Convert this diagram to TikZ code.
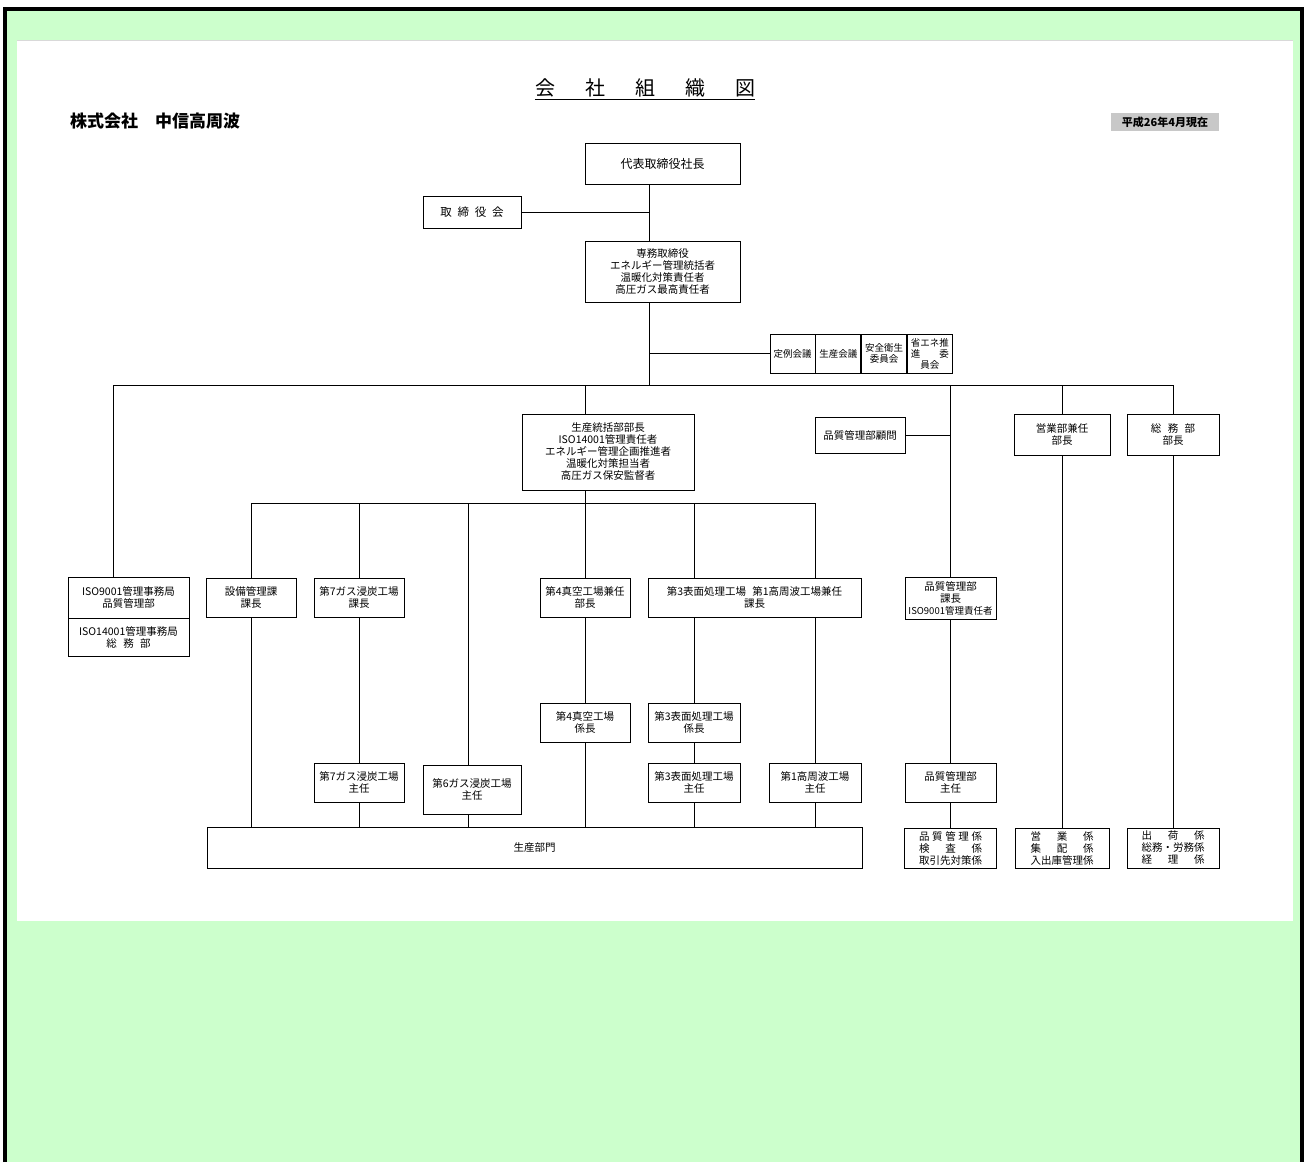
\documentclass[tikz,border=0pt]{standalone}
\usepackage{fontspec}
\setmainfont{Noto Sans CJK JP}
\usepackage{xcolor}
\definecolor{framegreen}{HTML}{CCFFCC}
\definecolor{labelgray} {HTML}{C8C8C8}
\usetikzlibrary{positioning, calc}

% spread the characters of one line over a fixed width
\newcommand{\jfy}[2][6em]{\makebox[#1][s]{#2}}

\begin{document}
\begin{tikzpicture}[x=1pt, y=-1pt,
    box/.style={draw, line width=0.8pt, align=center, inner sep=0pt,
                minimum width=90pt, minimum height=39pt,
                font=\fontsize{10.5}{12}\selectfont},
    cmbox/.style={box, minimum width=45pt, minimum height=39pt,
                  font=\fontsize{9.5}{11}\selectfont},
    link/.style={line width=0.8pt}]

    \useasboundingbox (0,0) rectangle (1306,1162);

    % --- page, green frame and white sheet
    \fill[white] (0,0) rectangle (1306,1162);
    \fill[framegreen] (5,9) rectangle (1302,1162);
    \draw[line width=3.5pt] (5,1162) |- (1302,9) -- (1302,1162);
    \fill[white] (17,40) rectangle (1293,921);
    \draw[gray!30, line width=1pt] (17,40.5) -- (1293,40.5);

    % --- headings
    \node[inner sep=0pt, font=\fontsize{20}{22}\selectfont] (title) at (645,88)
        {会\hspace{1.5em}社\hspace{1.5em}組\hspace{1.5em}織\hspace{1.5em}図};
    \draw[link] ([yshift=-2pt]title.south west) -- ([yshift=-2pt]title.south east);
    \node[inner sep=0pt, font=\fontsize{17}{19}\selectfont\bfseries] (company) at (155,121)
        {株式会社　中信高周波};
    \node[fill=labelgray, inner sep=0pt, minimum width=108pt, minimum height=18pt,
          font=\fontsize{11}{13}\selectfont\bfseries] (date) at (1165,122) {平成26年4月現在};

    % --- top management
    \node[box, minimum width=155pt, minimum height=41pt,
          font=\fontsize{12}{14}\selectfont] (pres) at (662.5,163.5) {代表取締役社長};
    \node[box, minimum width=98pt, minimum height=32pt,
          font=\fontsize{11.5}{13}\selectfont] (board) at (472,212.5)
        {取\hspace{.5em}締\hspace{.5em}役\hspace{.5em}会};
    \node[box, minimum width=155pt, minimum height=61pt] (exec) at (662.5,271.5)
        {専務取締役\\エネルギー管理統括者\\温暖化対策責任者\\高圧ガス最高責任者};

    % --- committees
    \node[cmbox] (cm1) at (792.5,353.5) {定例会議};
    \node[cmbox, right=0pt of cm1] (cm2) {生産会議};
    \node[cmbox, right=0pt of cm2] (cm3) {安全衛生\\委員会};
    \node[cmbox, right=0pt of cm3] (cm4) {省エネ推\\\jfy[4em]{進\hfill 委}\\員会};

    \coordinate (trunk) at (649,385);
    \coordinate (busL)  at (113,385);
    \coordinate (busR)  at (1173,385);
    \coordinate (genx)  at (585,385);
    \coordinate (qx)    at (950.5,385);

    \draw[link] (trunk |- pres.south) -- (trunk |- exec.north);
    \draw[link] (board.east) -- (board.east -| trunk);
    \draw[link] (trunk |- exec.south) -- (trunk);
    \draw[link] (trunk |- cm1.west) -- (cm1.west);
    \draw[link] (busL) -- (busR);

    % --- departments
    \node[box, minimum width=172pt, minimum height=76pt] (gen) at (608,452)
        {生産統括部部長\\ISO14001管理責任者\\エネルギー管理企画推進者\\温暖化対策担当者\\高圧ガス保安監督者};
    \node[box, minimum width=90pt, minimum height=36pt] (adv) at (860,435) {品質管理部顧問};
    \node[box, minimum width=96pt, minimum height=41pt] (sales) at (1062,434.5) {営業部兼任\\部長};
    \node[box, minimum width=92pt, minimum height=41pt] (gad) at (1173,434.5)
        {総\hspace{.6em}務\hspace{.6em}部\\部長};

    \draw[link] (genx) -- (genx |- gen.north);
    \draw[link] (adv.east) -- (adv.east -| qx);
    \draw[link] (sales.north |- busR) -- (sales.north);
    \draw[link] (busR) -- (gad.north);

    % --- sections under production
    \coordinate (subL) at (251,503);
    \coordinate (subR) at (815,503);
    \coordinate (subM) at (585,503);
    \coordinate (g6x)  at (468,503);
    \coordinate (s3x)  at (694,503);

    \node[box, minimum width=121pt, minimum height=41pt] (iso1) at (128.5,597.5)
        {ISO9001管理事務局\\品質管理部};
    \node[box, minimum width=121pt, minimum height=38pt, below=0pt of iso1] (iso2)
        {ISO14001管理事務局\\総\hspace{.6em}務\hspace{.6em}部};
    \node[box] (fac) at (251,597.5) {設備管理課\\課長};
    \node[box] (g7)  at (359,597.5) {第7ガス浸炭工場\\課長};
    \node[box] (v4)  at (585,597.5) {第4真空工場兼任\\部長};
    \node[box, minimum width=213pt] (s3) at (754.5,597.5)
        {第3表面処理工場\hspace{.6em}第1高周波工場兼任\\課長};
    \node[box, minimum width=91pt, minimum height=42pt] (qm) at (950.5,598)
        {品質管理部\\課長\\{\fontsize{9.5}{11}\selectfont ISO9001管理責任者}};

    \draw[link] (busL) -- (busL |- iso1.north);
    \draw[link] (qx) -- (qm.north);
    \draw[link] (subM |- gen.south) -- (subM);
    \draw[link] (subL) -- (subR);
    \draw[link] (subL) -- (fac.north);
    \draw[link] (g7.north |- subL) -- (g7.north);
    \draw[link] (v4.north |- subL) -- (v4.north);
    \draw[link] (s3x) -- (s3x |- s3.north);
    \draw[link] (subR) -- (subR |- s3.north);

    % --- chiefs
    \node[box] (v4b) at (585,722.5) {第4真空工場\\係長};
    \node[box, minimum width=92pt] (s3b) at (694,722.5) {第3表面処理工場\\係長};
    \node[box] (g7c) at (359,782.5) {第7ガス浸炭工場\\主任};
    \node[box, minimum width=98pt, minimum height=49pt] (g6c) at (472,789.5) {第6ガス浸炭工場\\主任};
    \node[box, minimum width=92pt] (s3c) at (694,782.5) {第3表面処理工場\\主任};
    \node[box, minimum width=92pt] (h1c) at (815,782.5) {第1高周波工場\\主任};
    \node[box, minimum width=91pt] (qmc) at (950.5,782.5) {品質管理部\\主任};

    % --- bottom row
    \node[box, minimum width=655pt, minimum height=41pt] (prod) at (534.5,847.5) {生産部門};
    \node[box, minimum width=92pt, minimum height=40pt] (qbot) at (950.5,848)
        {\jfy{品\hfill 質\hfill 管\hfill 理\hfill 係}\\\jfy{検\hfill 査\hfill 係}\\\jfy{取引先対策係}};
    \node[box, minimum width=94pt, minimum height=40pt] (sbot) at (1062,848)
        {\jfy{営\hfill 業\hfill 係}\\\jfy{集\hfill 配\hfill 係}\\\jfy{入出庫管理係}};
    \node[box, minimum width=92pt, minimum height=40pt] (gbot) at (1173,848)
        {\jfy{出\hfill 荷\hfill 係}\\\jfy{総務・労務係}\\\jfy{経\hfill 理\hfill 係}};

    \draw[link] (g6x) -- (g6x |- g6c.north);
    \draw[link] (fac.south) -- (fac.south |- prod.north);
    \draw[link] (g7.south) -- (g7c.north);
    \draw[link] (g7c.south) -- (g7c.south |- prod.north);
    \draw[link] (g6x |- g6c.south) -- (g6x |- prod.north);
    \draw[link] (v4.south) -- (v4b.north);
    \draw[link] (v4b.south) -- (v4b.south |- prod.north);
    \draw[link] (s3x |- s3.south) -- (s3b.north);
    \draw[link] (s3b.south) -- (s3c.north);
    \draw[link] (s3c.south) -- (s3c.south |- prod.north);
    \draw[link] (subR |- s3.south) -- (h1c.north);
    \draw[link] (h1c.south) -- (h1c.south |- prod.north);
    \draw[link] (qm.south) -- (qmc.north);
    \draw[link] (qmc.south) -- (qbot.north);
    \draw[link] (sales.south) -- (sbot.north);
    \draw[link] (gad.south) -- (gbot.north);
\end{tikzpicture}
\end{document}
